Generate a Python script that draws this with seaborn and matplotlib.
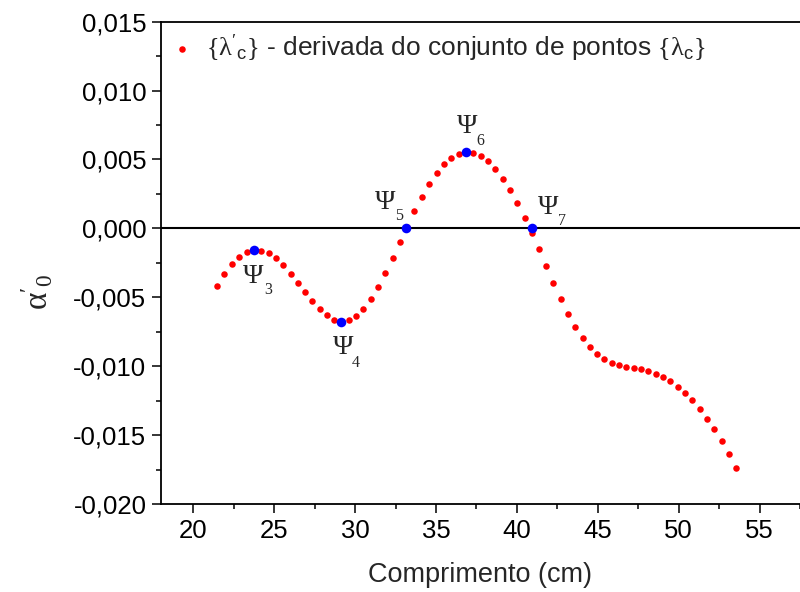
import numpy as np
import pandas as pd
import matplotlib
matplotlib.use("Agg")
import matplotlib.pyplot as plt
from matplotlib.ticker import FuncFormatter, MultipleLocator
import seaborn as sns

# Derivative values of the fitted point set, vs. length (cm)
comprimento = [
    21.46, 21.91, 22.39, 22.84, 23.29, 23.72, 24.20, 24.65, 25.10, 25.56,
    26.01, 26.46, 26.91, 27.36, 27.82, 28.27, 28.72, 29.17, 29.63, 30.06,
    30.51, 30.97, 31.42, 31.87, 32.33, 32.75, 33.20, 33.66, 34.14, 34.59,
    35.04, 35.49, 35.94, 36.40, 36.85, 37.30, 37.76, 38.21, 38.66, 39.12,
    39.57, 40.02, 40.48, 40.93, 41.36, 41.81, 42.24, 42.70, 43.15, 43.60,
    44.06, 44.51, 44.96, 45.41, 45.86, 46.31, 46.77, 47.22, 47.67, 48.13,
    48.58, 49.03, 49.49, 49.94, 50.39, 50.85, 51.30, 51.75, 52.18, 52.65,
    53.11, 53.56,
]
derivada = [
    -0.00419, -0.00329, -0.00259, -0.00205, -0.00171, -0.00157, -0.00166, -0.00181, -0.00215, -0.00268,
    -0.00329, -0.00394, -0.00462, -0.00525, -0.00586, -0.00632, -0.00663, -0.00676, -0.00666, -0.00637,
    -0.00586, -0.00513, -0.00426, -0.00324, -0.00212, -0.00099, 0.00012, 0.00127, 0.00229, 0.00323,
    0.00401, 0.00465, 0.00513, 0.00542, 0.00554, 0.00549, 0.00527, 0.00489, 0.00430, 0.00360,
    0.00278, 0.00183, 0.00079, -0.00037, -0.00150, -0.00273, -0.00397, -0.00513, -0.00620, -0.00715,
    -0.00797, -0.00863, -0.00911, -0.00950, -0.00974, -0.00989, -0.01003, -0.01010, -0.01020, -0.01034,
    -0.01054, -0.01078, -0.01110, -0.01149, -0.01194, -0.01248, -0.01311, -0.01381, -0.01459, -0.01544,
    -0.01638, -0.01740,
]

# Characteristic points (extrema and zero crossings)
psi_nomes = ["3", "4", "5", "6", "7"]
psi_x = [23.72, 29.15, 33.15, 36.85, 40.91]
psi_y = [-0.00157, -0.00676, 0.0, 0.00554, 0.0]

x_ticks = [20, 25, 30, 35, 40, 45, 50, 55]
y_ticks = [-0.020, -0.015, -0.010, -0.005, 0.000, 0.005, 0.010, 0.015]

legenda = (r"$\{\mathrm{\lambda}'_{\mathsf{c}}\}$ - derivada do conjunto de pontos "
           r"$\{\mathrm{\lambda}_{\mathsf{c}}\}$")

# Offsets (points) of the Psi symbol and of its index, relative to each point
psi_offsets = [(0, -19.4), (1.2, -18.7), (-15.1, 18.7), (0.7, 18.2), (11.7, 14.7)]
sub_offsets = [(10.6, -29.0), (10.6, -30.2), (-5.0, 9.1), (10.6, 8.1), (21.6, 5.5)]

sns.set_theme(style="ticks")
plt.rcParams["font.family"] = ["Liberation Sans", "DejaVu Sans"]
plt.rcParams["mathtext.fontset"] = "custom"
plt.rcParams["mathtext.rm"] = "Liberation Serif"
plt.rcParams["mathtext.it"] = "Liberation Serif:italic"
plt.rcParams["mathtext.sf"] = "Liberation Sans"

fig = plt.figure(figsize=(8.0, 5.92), dpi=100)
ax = fig.add_axes([161 / 800, 88 / 592, (800 - 161) / 800, (504 - 21.7) / 592])

df = pd.DataFrame({"x": comprimento, "y": derivada})
dpsi = pd.DataFrame({"x": psi_x, "y": psi_y})

ax.axhline(0, color="black", lw=1.5, zorder=1)
sns.scatterplot(data=df, x="x", y="y", ax=ax, color="#ff0000", s=22,
                linewidth=0, label=legenda, zorder=3)
sns.scatterplot(data=dpsi, x="x", y="y", ax=ax, color="#0000ff", s=48,
                linewidth=0, legend=False, zorder=4)

for nome, px, py, (ox, oy), (sx, sy) in zip(psi_nomes, psi_x, psi_y, psi_offsets, sub_offsets):
    ax.annotate("\u03A8", (px, py), xytext=(ox, oy), textcoords="offset points",
                ha="center", va="center", fontsize=20, family="Liberation Serif")
    ax.annotate(nome, (px, py), xytext=(sx, sy), textcoords="offset points",
                ha="center", va="center", fontsize=11.5, family="Liberation Serif")

ax.set_xlim(18, 57.5)
ax.set_ylim(-0.020, 0.015)
ax.set_xticks(x_ticks)
ax.set_yticks(y_ticks)
ax.xaxis.set_minor_locator(MultipleLocator(2.5))
ax.yaxis.set_minor_locator(MultipleLocator(0.0025))
ax.yaxis.set_major_formatter(FuncFormatter(lambda v, p: f"{v:.3f}".replace(".", ",").replace("\u2212", "-")))
ax.xaxis.set_major_formatter(FuncFormatter(lambda v, p: f"{v:.0f}"))
ax.tick_params(axis="both", which="major", direction="out", length=6.5, width=1.1,
               labelsize=18.5, color="black", labelcolor="black", pad=4)
ax.tick_params(axis="both", which="minor", direction="out", length=3.5, width=1.1, color="black")

for side in ["left", "bottom", "top"]:
    ax.spines[side].set_linewidth(1.3)
    ax.spines[side].set_color("black")
ax.spines["right"].set_visible(False)

ax.set_xlabel("Comprimento (cm)", fontsize=19.5, labelpad=14)
ax.set_ylabel(r"$\mathrm{\alpha}'_{0}$", fontsize=24)
ax.yaxis.set_label_coords(-0.165, 0.44)

leg = ax.legend(loc="upper left", frameon=False, fontsize=19, handlelength=0.8,
                handletextpad=0.5, borderaxespad=0.1, borderpad=0.3, markerscale=1.0)

fig.savefig("out.png", dpi=100)
